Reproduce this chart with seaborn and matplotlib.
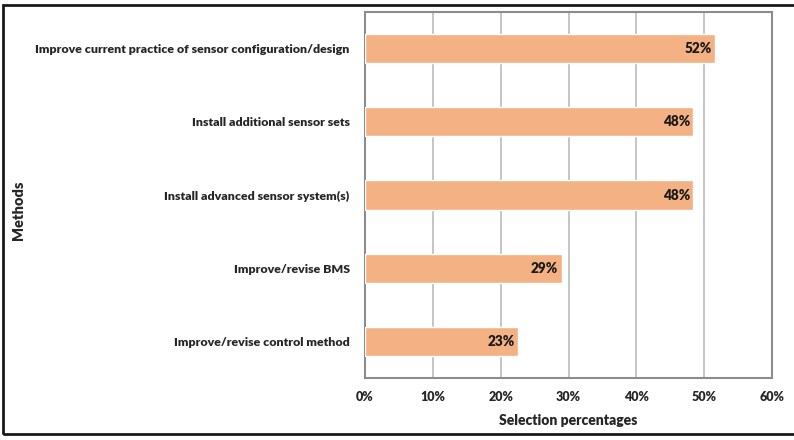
import matplotlib
matplotlib.use("Agg")
import matplotlib.pyplot as plt
import seaborn as sns
import pandas as pd
from matplotlib.patches import Rectangle

methods = [
    "Improve current practice of sensor configuration/design",
    "Install additional sensor sets",
    "Install advanced sensor system(s)",
    "Improve/revise BMS",
    "Improve/revise control method",
]
shares = [0.516, 0.484, 0.484, 0.290, 0.226]
x_ticks = [0.0, 0.1, 0.2, 0.3, 0.4, 0.5, 0.6]

df = pd.DataFrame({"method": methods, "share": shares})

sns.set_theme(style="white")
plt.rcParams["font.family"] = ["Lato", "DejaVu Sans"]

fig = plt.figure(figsize=(7.94, 4.40), dpi=100)
ax = fig.add_axes([365 / 794, 1 - 378 / 440, (772 - 365) / 794, (378 - 12) / 440])

bar_color = "#F4B183"
sns.barplot(data=df, x="share", y="method", orient="h", color=bar_color,
            width=0.4, saturation=1, ax=ax, zorder=3)

W = 800  # heavy weight for all chart text

ax.set_xlim(0, 0.6)
ax.set_xticks(x_ticks)
ax.set_xticklabels([f"{t:.0%}" for t in x_ticks], fontsize=9, fontweight=W)
ax.tick_params(axis="x", length=0, pad=9)
ax.tick_params(axis="y", length=0, pad=11)
for lbl in ax.get_yticklabels():
    lbl.set_fontsize(8.95)
    lbl.set_fontweight(W)

ax.grid(axis="x", color="#B5B5B5", linewidth=1.1, zorder=0)
ax.grid(axis="y", visible=False)
for s in ax.spines.values():
    s.set_color("#8C8C8C")
    s.set_linewidth(1.5)

for i, v in enumerate(shares):
    ax.text(v - 0.005, i, f"{v:.0%}", ha="right", va="center",
            fontsize=9.8, fontweight=W, color="#1A1A1A", zorder=4)

ax.set_xlabel("Selection percentages", fontsize=10, fontweight=W, labelpad=8)
ax.set_ylabel("")
fig.text(18 / 794, 1 - 210 / 440, "Methods", rotation=90, ha="center", va="center",
         fontsize=10.5, fontweight=W)

# outer frame around the chart area
fig.patches.append(Rectangle((3 / 794, 1 - 434 / 440), 1.0, (434 - 5) / 440,
                             transform=fig.transFigure, fill=False,
                             edgecolor="#1A1A1A", linewidth=2.0, zorder=10))

fig.savefig("out.png", dpi=100)
